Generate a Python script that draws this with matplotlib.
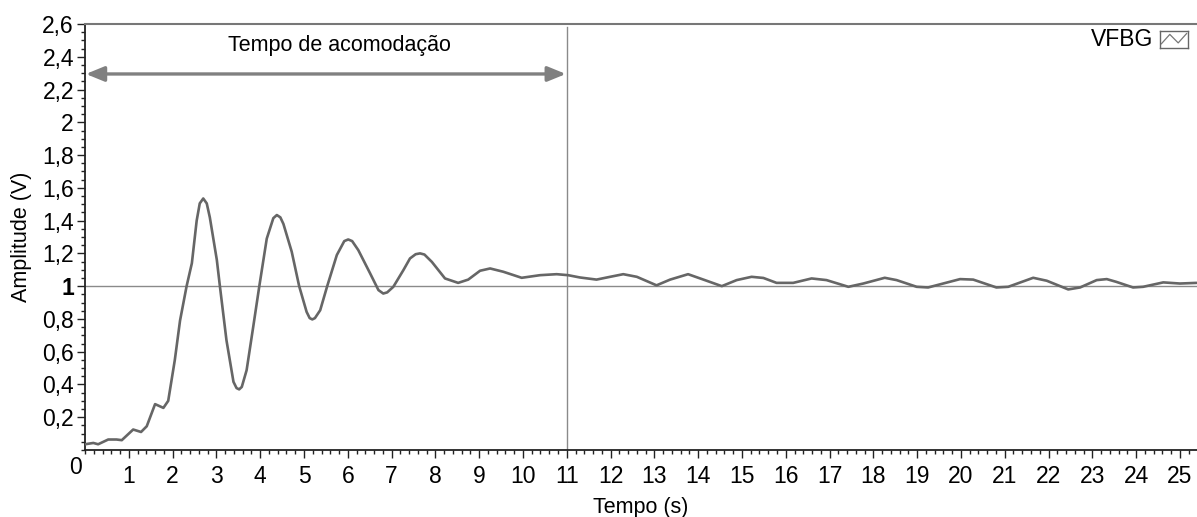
import numpy as np
import matplotlib
matplotlib.use("Agg")
import matplotlib.pyplot as plt
from matplotlib.ticker import FixedLocator, MultipleLocator

plt.rcParams['font.family'] = ['Liberation Sans', 'DejaVu Sans']

# ---- data ----
t = [0.00, 0.19, 0.30, 0.53, 0.72, 0.84, 1.10, 1.28, 1.41, 1.60, 1.79, 1.90,
     2.05, 2.17, 2.32, 2.44, 2.55, 2.62, 2.70, 2.78, 2.85, 3.01, 3.08, 3.23,
     3.39, 3.46, 3.52, 3.58, 3.69, 3.84, 3.98, 4.15, 4.30, 4.38, 4.46, 4.53,
     4.72, 4.89, 5.06, 5.13, 5.19, 5.25, 5.37, 5.53, 5.75, 5.92, 6.01, 6.10,
     6.24, 6.51, 6.70, 6.81, 6.90, 7.04, 7.27, 7.42, 7.55, 7.65, 7.75, 7.92,
     8.22, 8.52, 8.75, 9.02, 9.25, 9.55, 9.97, 10.39, 10.77, 11.03, 11.30,
     11.68, 11.99, 12.29, 12.60, 13.05, 13.36, 13.77, 14.12, 14.54, 14.88,
     15.22, 15.49, 15.79, 16.17, 16.59, 16.93, 17.43, 17.77, 18.26, 18.53,
     18.99, 19.25, 19.98, 20.28, 20.81, 21.08, 21.65, 21.96, 22.45, 22.72,
     23.10, 23.33, 23.55, 23.93, 24.16, 24.62, 25.00, 25.38]
amp = [0.035, 0.043, 0.035, 0.064, 0.064, 0.060, 0.125, 0.110, 0.145, 0.280,
       0.257, 0.300, 0.548, 0.790, 1.000, 1.140, 1.400, 1.505, 1.535, 1.505,
       1.420, 1.160, 1.000, 0.670, 0.416, 0.378, 0.370, 0.385, 0.487, 0.750,
       1.000, 1.290, 1.415, 1.434, 1.420, 1.380, 1.210, 1.000, 0.843, 0.805,
       0.797, 0.805, 0.853, 1.000, 1.190, 1.275, 1.285, 1.275, 1.220, 1.078,
       0.976, 0.955, 0.962, 0.996, 1.098, 1.169, 1.195, 1.200, 1.193, 1.148,
       1.047, 1.020, 1.040, 1.094, 1.108, 1.088, 1.051, 1.067, 1.073, 1.067,
       1.053, 1.040, 1.057, 1.073, 1.057, 1.005, 1.040, 1.073, 1.040, 1.000,
       1.037, 1.057, 1.050, 1.020, 1.020, 1.047, 1.037, 0.996, 1.016, 1.051,
       1.037, 0.996, 0.992, 1.043, 1.040, 0.992, 0.996, 1.051, 1.033, 0.980,
       0.992, 1.037, 1.043, 1.026, 0.992, 0.996, 1.023, 1.016, 1.020]

y_ticks = [0.2, 0.4, 0.6, 0.8, 1.0, 1.2, 1.4, 1.6, 1.8, 2.0, 2.2, 2.4, 2.6]
y_labels = ['0,2', '0,4', '0,6', '0,8', '1', '1,2', '1,4', '1,6', '1,8', '2',
            '2,2', '2,4', '2,6']
x_ticks = list(range(1, 26))
x_labels = [str(v) for v in x_ticks]

settle_time = 11.0
setpoint = 1.0

# ---- figure ----
fig = plt.figure(figsize=(11.97, 5.17), dpi=100)
ax = fig.add_axes([85 / 1197, 1 - 450 / 517, 1 - 85 / 1197, (450 - 24) / 517])

ax.plot(t, amp, color='#666666', lw=1.9, solid_joinstyle='round',
        solid_capstyle='round', zorder=3)
ax.axhline(setpoint, color='#8a8a8a', lw=1.0, zorder=2)
ax.plot([settle_time, settle_time], [0, 2.58], color='#8a8a8a', lw=1.0, zorder=2)

ax.annotate('', xy=(settle_time - 0.02, 2.295), xytext=(0.02, 2.295),
            arrowprops=dict(arrowstyle='<|-|>,head_length=1.1,head_width=0.45',
                            color='#808080', lw=2.4, shrinkA=0, shrinkB=0))
ax.text(5.82, 2.47, 'Tempo de acomodação', ha='center', va='center', fontsize=15.5)

ax.set_xlim(0, 25.39)
ax.set_ylim(0, 2.6)

ax.yaxis.set_major_locator(FixedLocator(y_ticks))
ax.set_yticklabels(y_labels)
ax.yaxis.set_minor_locator(MultipleLocator(0.05))
ax.xaxis.set_major_locator(FixedLocator(x_ticks))
ax.set_xticklabels(x_labels)
ax.xaxis.set_minor_locator(MultipleLocator(0.2))
for lab in ax.get_yticklabels():
    if lab.get_text() == '1':
        lab.set_fontweight('bold')

ax.tick_params(axis='both', which='major', direction='out', length=6,
               width=1.0, color='#222222', labelsize=16.5)
ax.tick_params(axis='both', which='minor', direction='out', length=3,
               width=1.0, color='#222222')
ax.tick_params(axis='x', pad=5)
ax.tick_params(axis='y', pad=2)

ax.spines['right'].set_visible(False)
ax.spines['top'].set_color('#777777')
ax.spines['top'].set_linewidth(1.5)
for s in ('left', 'bottom'):
    ax.spines[s].set_color('#222222')
    ax.spines[s].set_linewidth(1.3)

fig.text(75 / 1197, 1 - 467 / 517, '0', ha='center', va='center', fontsize=16.5)
fig.text(22 / 1197, 1 - 237 / 517, 'Amplitude (V)', rotation=90,
         ha='center', va='center', fontsize=15.5)
fig.text(641 / 1197, 1 - 508 / 517, 'Tempo (s)', ha='center', va='center',
         fontsize=15.5)

# legend-like label top right
fig.text(1153 / 1197, 1 - 40 / 517, 'VFBG', ha='right', va='center', fontsize=16.5)
box = fig.add_axes([1160 / 1197, 1 - 48 / 517, 28 / 1197, 17 / 517])
box.plot([0.05, 0.35, 0.65, 0.95], [0.25, 0.8, 0.3, 0.85], color='#777777', lw=0.9)
box.set_xlim(0, 1)
box.set_ylim(0, 1)
box.set_xticks([])
box.set_yticks([])
for s in box.spines.values():
    s.set_color('#666666')
    s.set_linewidth(1.0)

fig.savefig('out.png', dpi=100)
